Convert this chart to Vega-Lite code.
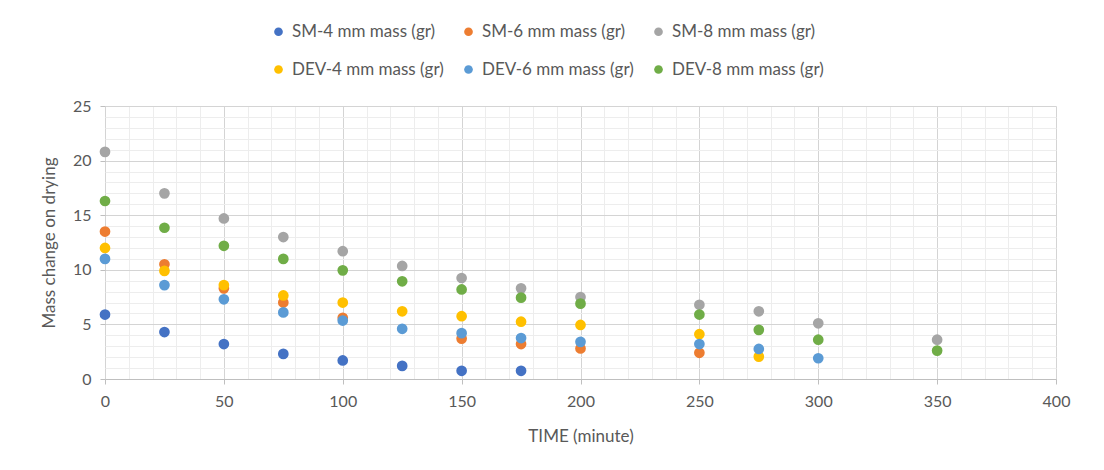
{
  "$schema": "https://vega.github.io/schema/vega-lite/v6.json",
  "width": 951,
  "height": 273,
  "autosize": {"type": "none"},
  "padding": {"left": 105, "top": 106, "right": 48, "bottom": 91},
  "background": "white",
  "config": {
    "font": "Lato",
    "view": {"stroke": null},
    "axis": {
      "labelFont": "Lato",
      "titleFont": "Lato",
      "labelColor": "#595959",
      "titleColor": "#595959",
      "labelFontSize": 16,
      "titleFontSize": 17,
      "titleFontWeight": "normal",
      "domainColor": "#bfbfbf",
      "tickSize": 5
    },
    "legend": {
      "labelFont": "Lato",
      "labelFontSize": 17,
      "labelColor": "#595959"
    }
  },
  "data": {
    "values": [
      {"time": 0, "series": "SM-4 mm mass (gr)", "mass": 5.9},
      {"time": 25, "series": "SM-4 mm mass (gr)", "mass": 4.3},
      {"time": 50, "series": "SM-4 mm mass (gr)", "mass": 3.2},
      {"time": 75, "series": "SM-4 mm mass (gr)", "mass": 2.3},
      {"time": 100, "series": "SM-4 mm mass (gr)", "mass": 1.7},
      {"time": 125, "series": "SM-4 mm mass (gr)", "mass": 1.2},
      {"time": 150, "series": "SM-4 mm mass (gr)", "mass": 0.75},
      {"time": 175, "series": "SM-4 mm mass (gr)", "mass": 0.75},

      {"time": 0, "series": "SM-6 mm mass (gr)", "mass": 13.5},
      {"time": 25, "series": "SM-6 mm mass (gr)", "mass": 10.5},
      {"time": 50, "series": "SM-6 mm mass (gr)", "mass": 8.3},
      {"time": 75, "series": "SM-6 mm mass (gr)", "mass": 7.0},
      {"time": 100, "series": "SM-6 mm mass (gr)", "mass": 5.6},
      {"time": 150, "series": "SM-6 mm mass (gr)", "mass": 3.7},
      {"time": 175, "series": "SM-6 mm mass (gr)", "mass": 3.2},
      {"time": 200, "series": "SM-6 mm mass (gr)", "mass": 2.8},
      {"time": 250, "series": "SM-6 mm mass (gr)", "mass": 2.4},

      {"time": 0, "series": "SM-8 mm mass (gr)", "mass": 20.8},
      {"time": 25, "series": "SM-8 mm mass (gr)", "mass": 17.0},
      {"time": 50, "series": "SM-8 mm mass (gr)", "mass": 14.7},
      {"time": 75, "series": "SM-8 mm mass (gr)", "mass": 13.0},
      {"time": 100, "series": "SM-8 mm mass (gr)", "mass": 11.7},
      {"time": 125, "series": "SM-8 mm mass (gr)", "mass": 10.35},
      {"time": 150, "series": "SM-8 mm mass (gr)", "mass": 9.25},
      {"time": 175, "series": "SM-8 mm mass (gr)", "mass": 8.3},
      {"time": 200, "series": "SM-8 mm mass (gr)", "mass": 7.5},
      {"time": 250, "series": "SM-8 mm mass (gr)", "mass": 6.8},
      {"time": 275, "series": "SM-8 mm mass (gr)", "mass": 6.2},
      {"time": 300, "series": "SM-8 mm mass (gr)", "mass": 5.1},
      {"time": 350, "series": "SM-8 mm mass (gr)", "mass": 3.6},

      {"time": 0, "series": "DEV-4 mm mass (gr)", "mass": 12.0},
      {"time": 25, "series": "DEV-4 mm mass (gr)", "mass": 9.9},
      {"time": 50, "series": "DEV-4 mm mass (gr)", "mass": 8.6},
      {"time": 75, "series": "DEV-4 mm mass (gr)", "mass": 7.65},
      {"time": 100, "series": "DEV-4 mm mass (gr)", "mass": 7.0},
      {"time": 125, "series": "DEV-4 mm mass (gr)", "mass": 6.2},
      {"time": 150, "series": "DEV-4 mm mass (gr)", "mass": 5.75},
      {"time": 175, "series": "DEV-4 mm mass (gr)", "mass": 5.25},
      {"time": 200, "series": "DEV-4 mm mass (gr)", "mass": 4.95},
      {"time": 250, "series": "DEV-4 mm mass (gr)", "mass": 4.1},
      {"time": 275, "series": "DEV-4 mm mass (gr)", "mass": 2.05},

      {"time": 0, "series": "DEV-6 mm mass (gr)", "mass": 11.0},
      {"time": 25, "series": "DEV-6 mm mass (gr)", "mass": 8.6},
      {"time": 50, "series": "DEV-6 mm mass (gr)", "mass": 7.3},
      {"time": 75, "series": "DEV-6 mm mass (gr)", "mass": 6.1},
      {"time": 100, "series": "DEV-6 mm mass (gr)", "mass": 5.35},
      {"time": 125, "series": "DEV-6 mm mass (gr)", "mass": 4.6},
      {"time": 150, "series": "DEV-6 mm mass (gr)", "mass": 4.2},
      {"time": 175, "series": "DEV-6 mm mass (gr)", "mass": 3.75},
      {"time": 200, "series": "DEV-6 mm mass (gr)", "mass": 3.4},
      {"time": 250, "series": "DEV-6 mm mass (gr)", "mass": 3.2},
      {"time": 275, "series": "DEV-6 mm mass (gr)", "mass": 2.75},
      {"time": 300, "series": "DEV-6 mm mass (gr)", "mass": 1.9},

      {"time": 0, "series": "DEV-8 mm mass (gr)", "mass": 16.3},
      {"time": 25, "series": "DEV-8 mm mass (gr)", "mass": 13.85},
      {"time": 50, "series": "DEV-8 mm mass (gr)", "mass": 12.2},
      {"time": 75, "series": "DEV-8 mm mass (gr)", "mass": 11.0},
      {"time": 100, "series": "DEV-8 mm mass (gr)", "mass": 9.95},
      {"time": 125, "series": "DEV-8 mm mass (gr)", "mass": 8.95},
      {"time": 150, "series": "DEV-8 mm mass (gr)", "mass": 8.2},
      {"time": 175, "series": "DEV-8 mm mass (gr)", "mass": 7.45},
      {"time": 200, "series": "DEV-8 mm mass (gr)", "mass": 6.9},
      {"time": 250, "series": "DEV-8 mm mass (gr)", "mass": 5.9},
      {"time": 275, "series": "DEV-8 mm mass (gr)", "mass": 4.5},
      {"time": 300, "series": "DEV-8 mm mass (gr)", "mass": 3.6},
      {"time": 350, "series": "DEV-8 mm mass (gr)", "mass": 2.6}
    ]
  },
  "mark": {"type": "point", "filled": true, "opacity": 1, "size": 115, "shape": "circle"},
  "encoding": {
    "x": {
      "field": "time",
      "type": "quantitative",
      "scale": {"domain": [0, 400], "nice": false},
      "axis": {
        "title": "TIME (minute)",
        "values": [0, 10, 20, 30, 40, 50, 60, 70, 80, 90, 100, 110, 120, 130, 140, 150, 160, 170, 180, 190, 200, 210, 220, 230, 240, 250, 260, 270, 280, 290, 300, 310, 320, 330, 340, 350, 360, 370, 380, 390, 400],
        "labelExpr": "datum.value % 50 === 0 ? datum.label : ''",
        "grid": true,
        "gridColor": {"condition": {"test": "datum.value % 50 === 0", "value": "#d4d4d4"}, "value": "#ededed"},
        "tickColor": {"condition": {"test": "datum.value % 50 === 0", "value": "#bfbfbf"}, "value": "transparent"},
        "labelPadding": 9,
        "titlePadding": 19,
        "labelFlush": false,
        "labelOverlap": false
      }
    },
    "y": {
      "field": "mass",
      "type": "quantitative",
      "scale": {"domain": [0, 25], "nice": false},
      "axis": {
        "title": "Mass change on drying",
        "values": [0, 1, 2, 3, 4, 5, 6, 7, 8, 9, 10, 11, 12, 13, 14, 15, 16, 17, 18, 19, 20, 21, 22, 23, 24, 25],
        "labelExpr": "datum.value % 5 === 0 ? datum.label : ''",
        "grid": true,
        "gridColor": {"condition": {"test": "datum.value % 5 === 0", "value": "#d4d4d4"}, "value": "#ededed"},
        "tickColor": {"condition": {"test": "datum.value % 5 === 0", "value": "#bfbfbf"}, "value": "transparent"},
        "domain": false,
        "labelPadding": 9,
        "titlePadding": 14,
        "labelOverlap": false
      }
    },
    "color": {
      "field": "series",
      "type": "nominal",
      "sort": null,
      "scale": {
        "domain": ["SM-4 mm mass (gr)", "SM-6 mm mass (gr)", "SM-8 mm mass (gr)", "DEV-4 mm mass (gr)", "DEV-6 mm mass (gr)", "DEV-8 mm mass (gr)"],
        "range": ["#4472C4", "#ED7D31", "#A5A5A5", "#FFC000", "#5B9BD5", "#70AD47"]
      },
      "legend": {
        "title": null,
        "orient": "none",
        "legendX": 165,
        "legendY": -83,
        "direction": "horizontal",
        "columns": 3,
        "columnPadding": 16,
        "rowPadding": 20,
        "symbolType": "circle",
        "symbolSize": 75,
        "symbolStrokeWidth": 0,
        "labelOffset": 5
      }
    }
  }
}
